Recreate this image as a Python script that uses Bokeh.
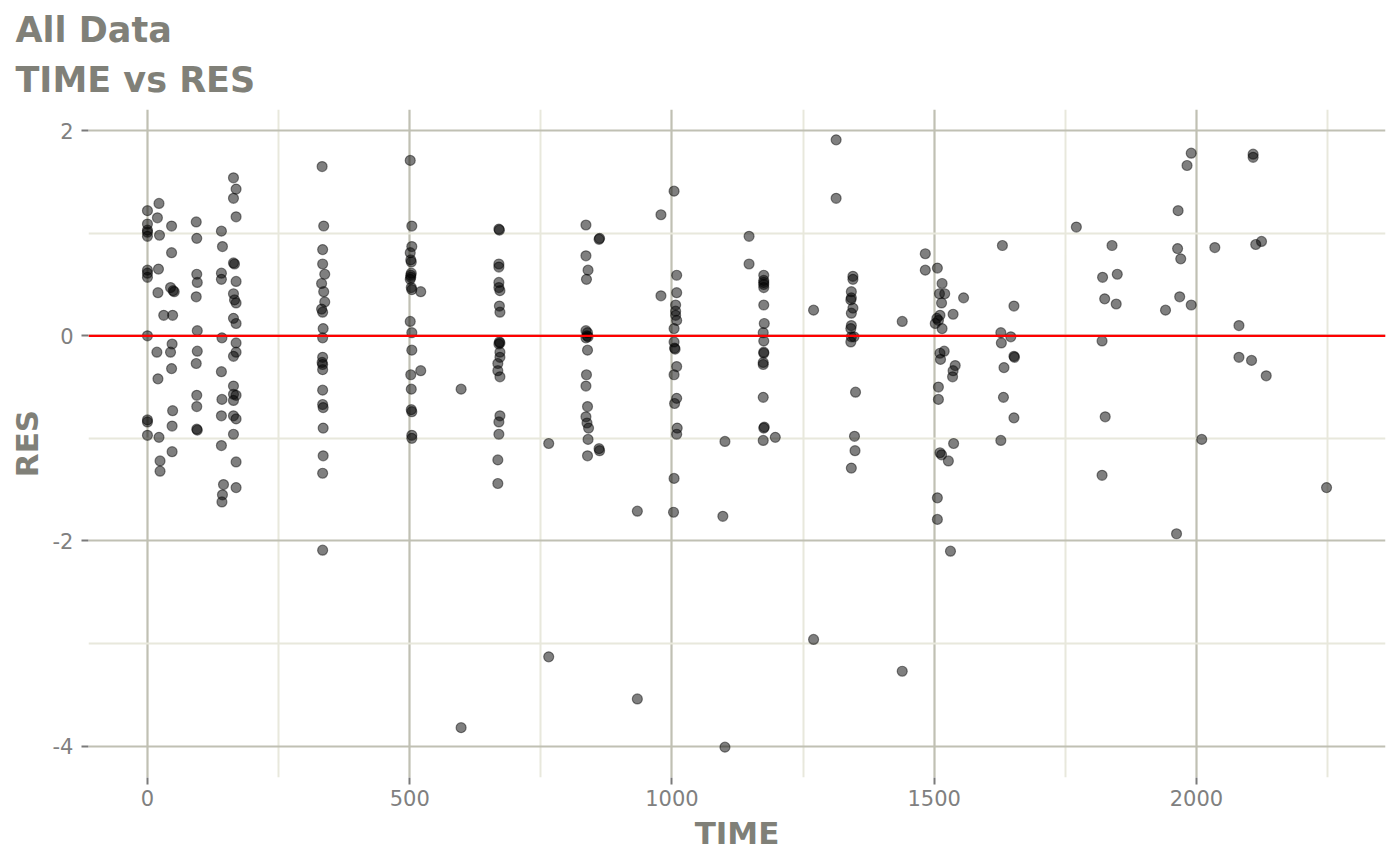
from bokeh.plotting import figure
from bokeh.models import Range1d, FixedTicker, Span, Title
from bokeh.embed import file_html
from bokeh.resources import INLINE

# ---- data ----
TIME_0 = [0, 0, 0, 0, 0, 0, 0, 0, 0, 0, 0, 0]
RES_0 = [1.22, 1.09, 1.03, 1.01, 0.97, 0.64, 0.61, 0.57, 0.0, -0.82, -0.84, -0.97]

TIME_20 = [22, 19, 23, 21, 20, 31, 18, 20, 22, 24, 24]
RES_20 = [1.29, 1.15, 0.98, 0.65, 0.42, 0.20, -0.16, -0.42, -0.99, -1.22, -1.32]

TIME_45 = [46, 46, 44, 49, 51, 48, 47, 44, 46, 48, 47, 47]
RES_45 = [1.07, 0.81, 0.47, 0.44, 0.43, 0.20, -0.08, -0.16, -0.32, -0.73, -0.88, -1.13]

TIME_90 = [93, 94, 94, 95, 93, 95, 95, 93, 94, 94, 94, 95]
RES_90 = [1.11, 0.95, 0.60, 0.52, 0.38, 0.05, -0.15, -0.27, -0.58, -0.69, -0.91, -0.92]

TIME_140 = [141, 143, 141, 141, 142, 141, 142, 141, 141, 145, 143, 142]
RES_140 = [1.02, 0.87, 0.61, 0.55, -0.02, -0.35, -0.62, -0.78, -1.07, -1.45, -1.55, -1.62]

TIME_165 = [164, 169, 164, 169, 164, 166, 169, 164, 166, 169, 164, 169,
            169, 169, 164, 164, 164, 169, 164, 164, 169, 164, 169, 169]
RES_165 = [1.54, 1.43, 1.34, 1.16, 0.71, 0.70, 0.53, 0.41, 0.35, 0.32, 0.17, 0.12,
           -0.07, -0.16, -0.20, -0.49, -0.57, -0.58, -0.63, -0.78, -0.81, -0.96, -1.23, -1.48]

TIME_335 = [333, 336, 334, 334, 338, 332, 336, 338, 332, 334, 335, 334,
            334, 333, 334, 334, 334, 334, 335, 335, 335, 334, 334]
RES_335 = [1.65, 1.07, 0.84, 0.70, 0.60, 0.51, 0.43, 0.33, 0.26, 0.23, 0.07, -0.02,
           -0.21, -0.26, -0.28, -0.33, -0.53, -0.67, -0.70, -0.90, -1.17, -1.34, -2.09]

TIME_500 = [501, 504, 504, 501, 502, 503, 503, 502, 501, 503, 504, 521,
            501, 504, 504, 521, 502, 503, 503, 504, 504, 504, 502]
RES_500 = [1.71, 1.07, 0.87, 0.81, 0.74, 0.72, 0.61, 0.57, 0.55, 0.47, 0.45, 0.43,
           0.14, 0.03, -0.14, -0.34, -0.38, -0.52, -0.72, -0.74, -0.97, -1.00, 0.59]

TIME_600 = [598, 598, 765, 765, 934, 934]
RES_600 = [-0.52, -3.82, -1.05, -3.13, -1.71, -3.54]

TIME_670 = [670, 671, 670, 670, 670, 670, 672, 671, 672, 671, 672, 670,
            672, 672, 668, 668, 672, 672, 670, 670, 668, 668]
RES_670 = [1.04, 1.03, 0.70, 0.67, 0.52, 0.47, 0.44, 0.29, 0.23, -0.06, -0.07, -0.08,
           -0.16, -0.21, -0.27, -0.34, -0.40, -0.78, -0.84, -0.96, -1.21, -1.44]

TIME_840 = [836, 836, 840, 837, 836, 839, 838, 840, 836, 839, 837, 836,
            839, 836, 838, 841, 840, 839, 861, 862, 861, 862]
RES_840 = [1.08, 0.78, 0.64, 0.55, 0.05, 0.03, 0.00, -0.01, -0.02, -0.14, -0.38, -0.49,
           -0.69, -0.79, -0.85, -0.90, -1.01, -1.17, 0.94, 0.95, -1.10, -1.12]

TIME_1000 = [979, 979, 1004, 1009, 1009, 1007, 1007, 1007, 1009, 1004, 1004,
             1005, 1006, 1009, 1004, 1009, 1005, 1010, 1009, 1004, 1003]
RES_1000 = [1.18, 0.39, 1.41, 0.59, 0.42, 0.30, 0.24, 0.20, 0.15, 0.07, -0.06,
            -0.12, -0.13, -0.30, -0.38, -0.61, -0.66, -0.90, -0.96, -1.39, -1.72]

TIME_1100 = [1101, 1097, 1101, 1147, 1147]
RES_1100 = [-1.03, -1.76, -4.01, 0.97, 0.70]

TIME_1175 = [1175, 1175, 1175, 1175, 1175, 1175, 1176, 1174, 1175, 1175, 1175,
             1174, 1174, 1174, 1176, 1175, 1174, 1197]
RES_1175 = [0.59, 0.54, 0.52, 0.50, 0.47, 0.30, 0.12, 0.03, -0.05, -0.16, -0.17,
            -0.26, -0.28, -0.60, -0.89, -0.90, -1.02, -0.99]

TIME_1300 = [1270, 1270, 1313, 1313, 1439, 1439]
RES_1300 = [0.25, -2.96, 1.91, 1.34, 0.14, -3.27]

TIME_1345 = [1345, 1345, 1342, 1342, 1341, 1345, 1342, 1342, 1341, 1342,
             1347, 1341, 1350, 1348, 1349, 1342]
RES_1345 = [0.58, 0.55, 0.43, 0.37, 0.35, 0.27, 0.22, 0.10, 0.07, -0.01,
            -0.01, -0.06, -0.55, -0.98, -1.12, -1.29]

TIME_1510 = [1483, 1483, 1506, 1515, 1510, 1520, 1514, 1556, 1536, 1511, 1505,
             1508, 1502, 1515, 1519, 1511, 1512, 1540, 1536, 1535, 1508, 1508,
             1537, 1511, 1514, 1527, 1506, 1506, 1531]
RES_1510 = [0.80, 0.64, 0.66, 0.51, 0.41, 0.41, 0.32, 0.37, 0.21, 0.20, 0.17,
            0.15, 0.12, 0.07, -0.15, -0.17, -0.23, -0.29, -0.34, -0.40, -0.50, -0.62,
            -1.05, -1.14, -1.16, -1.22, -1.58, -1.79, -2.10]

TIME_1640 = [1630, 1652, 1627, 1646, 1628, 1652, 1653, 1633, 1632, 1652, 1627]
RES_1640 = [0.88, 0.29, 0.03, -0.01, -0.07, -0.20, -0.21, -0.31, -0.60, -0.80, -1.02]

TIME_1800 = [1771, 1839, 1821, 1849, 1825, 1847, 1820, 1826, 1820]
RES_1800 = [1.06, 0.88, 0.57, 0.60, 0.36, 0.31, -0.05, -0.79, -1.36]

TIME_1980 = [1990, 1982, 1965, 1964, 1970, 1968, 1990, 1941, 2035, 2010, 1962]
RES_1980 = [1.78, 1.66, 1.22, 0.85, 0.75, 0.38, 0.30, 0.25, 0.86, -1.01, -1.93]

TIME_2100 = [2081, 2081, 2108, 2108, 2113, 2124, 2105, 2133, 2248]
RES_2100 = [0.10, -0.21, 1.77, 1.74, 0.89, 0.92, -0.24, -0.39, -1.48]

X_TICKS = [0, 500, 1000, 1500, 2000]
X_MINOR = [250, 750, 1250, 1750, 2250]
Y_TICKS = [-4, -2, 0, 2]
Y_MINOR = [-3, -1, 1]

TITLE_1 = "All Data"
TITLE_2 = "TIME vs RES"
X_LABEL = "TIME"
Y_LABEL = "RES"

TIME = (TIME_0 + TIME_20 + TIME_45 + TIME_90 + TIME_140 + TIME_165 + TIME_335 +
        TIME_500 + TIME_600 + TIME_670 + TIME_840 + TIME_1000 + TIME_1100 +
        TIME_1175 + TIME_1300 + TIME_1345 + TIME_1510 + TIME_1640 + TIME_1800 +
        TIME_1980 + TIME_2100)
RES = (RES_0 + RES_20 + RES_45 + RES_90 + RES_140 + RES_165 + RES_335 +
       RES_500 + RES_600 + RES_670 + RES_840 + RES_1000 + RES_1100 +
       RES_1175 + RES_1300 + RES_1345 + RES_1510 + RES_1640 + RES_1800 +
       RES_1980 + RES_2100)

# ggplot-like 5% expansion
x0, x1 = min(TIME), max(TIME)
y0, y1 = min(RES), max(RES)
dx = (x1 - x0) * 0.05
dy = (y1 - y0) * 0.05

TXT = "#808078"
FONT = "DejaVu Sans"

p = figure(frame_width=1297, frame_height=668,
           x_range=Range1d(x0 - dx, x1 + dx), y_range=Range1d(y0 - dy, y1 + dy),
           output_backend="svg", toolbar_location=None,
           min_border_left=88, min_border_right=7, min_border_top=0, min_border_bottom=70)
p.outline_line_color = None
p.background_fill_color = "white"

# titles: first added sits nearest the frame
p.title.text = ""
p.add_layout(Title(text=" ", text_font_size="4px", standoff=1), "above")
p.add_layout(Title(text=TITLE_2, text_font=FONT, text_font_size="35px",
                   text_font_style="bold", text_color=TXT, align="left",
                   offset=-73, standoff=3), "above")
p.add_layout(Title(text=TITLE_1, text_font=FONT, text_font_size="35px",
                   text_font_style="bold", text_color=TXT, align="left",
                   offset=-73, standoff=14), "above")

for ax, ticks, minor in ((p.xaxis, X_TICKS, X_MINOR), (p.yaxis, Y_TICKS, Y_MINOR)):
    ax.ticker = FixedTicker(ticks=ticks, minor_ticks=minor)
    ax.major_label_overrides = {t: str(t) for t in ticks}
    ax.axis_line_color = None
    ax.major_tick_line_color = "#7a7a7a"
    ax.major_tick_line_width = 2
    ax.major_tick_out = 7
    ax.major_tick_in = 0
    ax.minor_tick_line_color = None
    ax.major_label_text_font = FONT
    ax.major_label_text_font_size = "21px"
    ax.major_label_text_color = "#808080"
    ax.axis_label_text_font = FONT
    ax.axis_label_text_font_size = "31px"
    ax.axis_label_text_font_style = "bold"
    ax.axis_label_text_color = TXT

p.xaxis.axis_label = X_LABEL
p.yaxis.axis_label = Y_LABEL
p.xaxis.major_label_standoff = 5
p.yaxis.major_label_standoff = 8
p.xaxis.axis_label_standoff = 6
p.yaxis.axis_label_standoff = 5

for g in (p.xgrid, p.ygrid):
    g.grid_line_color = "#C0C0B3"
    g.grid_line_width = 2.2
    g.minor_grid_line_color = "#E8E8DC"
    g.minor_grid_line_width = 2

p.scatter(TIME, RES, size=10, marker="circle", fill_color="black", fill_alpha=0.5,
          line_color="black", line_alpha=0.45, line_width=1.2)

p.add_layout(Span(location=0, dimension="width", line_color="#FF0000", line_width=2.2))

open("out.html", "w").write(file_html(p, INLINE))
